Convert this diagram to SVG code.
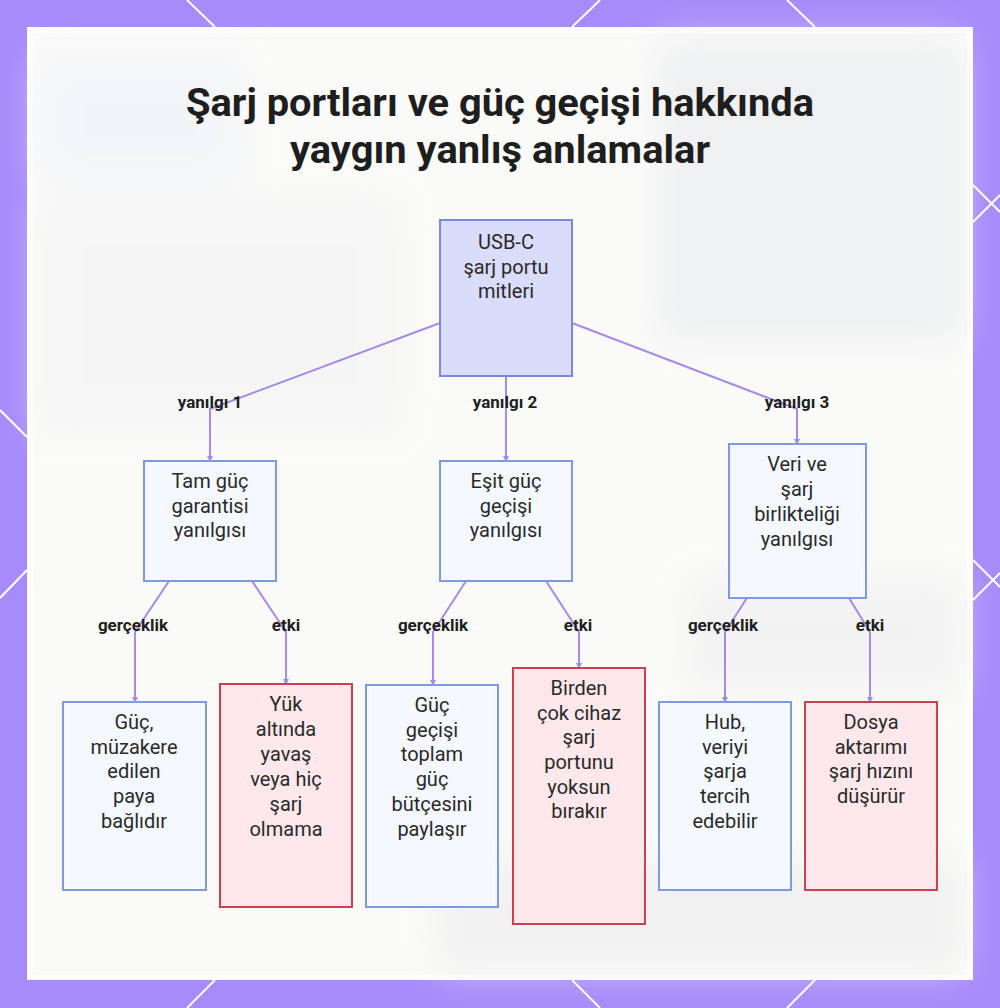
<svg xmlns="http://www.w3.org/2000/svg" width="1000" height="1008" viewBox="0 0 1000 1008">
  <defs>
    <filter id="blur" x="-20%" y="-20%" width="140%" height="140%"><feGaussianBlur stdDeviation="18"/></filter>
    <marker id="arr" viewBox="0 0 6 6" refX="5" refY="3" markerWidth="3" markerHeight="3" orient="auto">
      <path d="M0,0 L6,3 L0,6 z" fill="#a58be6"/>
    </marker>
    <style>
      .title{font-family:Roboto,"Liberation Sans",sans-serif;font-weight:700;font-size:38px;fill:#1e1e1e;text-anchor:middle}
      .nt{font-family:Roboto,"Liberation Sans",sans-serif;font-size:20px;fill:#2a2a2a;text-anchor:middle}
      .el{font-family:Roboto,"Liberation Sans",sans-serif;font-weight:700;font-size:17px;fill:#1e1e1e;text-anchor:middle}
      .root{fill:#dadcfc;stroke:#7b8ad8;stroke-width:2}
      .blue{fill:#f6f8ff;stroke:#7f9ae0;stroke-width:2}
      .red{fill:#ffe8ec;stroke:#c9424f;stroke-width:2}
      .edge{fill:none;stroke:#a58be6;stroke-width:2;marker-end:url(#arr)}
      .deco{stroke:#ffffff;stroke-width:2;fill:none}
    </style>
  </defs>
  <rect x="0" y="0" width="1000" height="1008" fill="#a78bfa"/>
  <g class="deco">
    <line x1="187" y1="0" x2="215" y2="27"/>
    <line x1="600" y1="0" x2="572" y2="27"/>
    <line x1="787" y1="0" x2="815" y2="27"/>
    <line x1="973" y1="185" x2="1000" y2="212"/>
    <line x1="973" y1="222" x2="1000" y2="195"/>
    <line x1="0" y1="410" x2="27" y2="437"/>
    <line x1="0" y1="598" x2="27" y2="570"/>
    <line x1="973" y1="560" x2="1000" y2="587"/>
    <line x1="973" y1="600" x2="1000" y2="573"/>
    <line x1="215" y1="980" x2="187" y2="1008"/>
    <line x1="572" y1="980" x2="600" y2="1008"/>
    <line x1="815" y1="980" x2="787" y2="1008"/>
  </g>
  <rect x="27" y="27" width="946" height="953" fill="#ffffff"/>
  <rect x="33" y="33" width="934" height="942" fill="#fafaf9"/>
  <g filter="url(#blur)" opacity="0.7">
    <rect x="660" y="40" width="300" height="300" fill="#eaecee"/>
    <rect x="40" y="60" width="200" height="120" fill="#f0f3f8"/>
    <rect x="40" y="200" width="360" height="230" fill="#f4f4f4"/>
    <rect x="440" y="860" width="520" height="110" fill="#eeeeee"/>
    <rect x="690" y="580" width="270" height="110" fill="#f0f0f0"/>
  </g>
  <g class="title">
    <text x="500" y="116" textLength="628" lengthAdjust="spacingAndGlyphs">Şarj portları ve güç geçişi hakkında</text>
    <text x="500" y="163" textLength="420" lengthAdjust="spacingAndGlyphs">yaygın yanlış anlamalar</text>
  </g>
  <g id="edges">
    <polyline class="edge" points="440,323 210,409 210,461"/>
    <polyline class="edge" points="506,376 506,461"/>
    <polyline class="edge" points="572,323 797,409 797,444"/>
    <polyline class="edge" points="169,581 135,632 135,702"/>
    <polyline class="edge" points="252,581 286,632 286,684"/>
    <polyline class="edge" points="466,581 433,632 433,685"/>
    <polyline class="edge" points="546,581 579,632 579,668"/>
    <polyline class="edge" points="747,598 725,632 725,702"/>
    <polyline class="edge" points="849,598 870,632 870,702"/>
  </g>
  <g id="edge-labels" class="el">
    <text x="210" y="408">yanılgı 1</text>
    <text x="505" y="408">yanılgı 2</text>
    <text x="797" y="408">yanılgı 3</text>
    <text x="133" y="631">gerçeklik</text>
    <text x="286" y="631">etki</text>
    <text x="433" y="631">gerçeklik</text>
    <text x="578" y="631">etki</text>
    <text x="723" y="631">gerçeklik</text>
    <text x="870" y="631">etki</text>
  </g>
  <g id="root">
    <rect class="root" x="440" y="220" width="132" height="156"/>
    <text class="nt" x="506" y="249">USB-C</text>
    <text class="nt" x="506" y="274">şarj portu</text>
    <text class="nt" x="506" y="298">mitleri</text>
  </g>
  <g id="m1">
    <rect class="blue" x="144" y="461" width="132" height="120"/>
    <text class="nt" x="210" y="488">Tam güç</text>
    <text class="nt" x="210" y="513">garantisi</text>
    <text class="nt" x="210" y="537">yanılgısı</text>
  </g>
  <g id="m2">
    <rect class="blue" x="440" y="461" width="132" height="120"/>
    <text class="nt" x="506" y="488">Eşit güç</text>
    <text class="nt" x="506" y="513">geçişi</text>
    <text class="nt" x="506" y="537">yanılgısı</text>
  </g>
  <g id="m3">
    <rect class="blue" x="729" y="444" width="137" height="154"/>
    <text class="nt" x="797" y="471">Veri ve</text>
    <text class="nt" x="797" y="496">şarj</text>
    <text class="nt" x="797" y="521">birlikteliği</text>
    <text class="nt" x="797" y="546">yanılgısı</text>
  </g>
  <g id="r1">
    <rect class="blue" x="63" y="702" width="143" height="188"/>
    <text class="nt" x="134" y="729">Güç,</text>
    <text class="nt" x="134" y="754">müzakere</text>
    <text class="nt" x="134" y="778">edilen</text>
    <text class="nt" x="134" y="803">paya</text>
    <text class="nt" x="134" y="828">bağlıdır</text>
  </g>
  <g id="i1">
    <rect class="red" x="220" y="684" width="132" height="223"/>
    <text class="nt" x="286" y="711">Yük</text>
    <text class="nt" x="286" y="736">altında</text>
    <text class="nt" x="286" y="761">yavaş</text>
    <text class="nt" x="286" y="786">veya hiç</text>
    <text class="nt" x="286" y="811">şarj</text>
    <text class="nt" x="286" y="836">olmama</text>
  </g>
  <g id="r2">
    <rect class="blue" x="366" y="685" width="132" height="222"/>
    <text class="nt" x="432" y="712">Güç</text>
    <text class="nt" x="432" y="737">geçişi</text>
    <text class="nt" x="432" y="761">toplam</text>
    <text class="nt" x="432" y="786">güç</text>
    <text class="nt" x="432" y="811">bütçesini</text>
    <text class="nt" x="432" y="836">paylaşır</text>
  </g>
  <g id="i2">
    <rect class="red" x="513" y="668" width="132" height="256"/>
    <text class="nt" x="579" y="695">Birden</text>
    <text class="nt" x="579" y="720">çok cihaz</text>
    <text class="nt" x="579" y="744">şarj</text>
    <text class="nt" x="579" y="769">portunu</text>
    <text class="nt" x="579" y="794">yoksun</text>
    <text class="nt" x="579" y="818">bırakır</text>
  </g>
  <g id="r3">
    <rect class="blue" x="659" y="702" width="132" height="188"/>
    <text class="nt" x="725" y="729">Hub,</text>
    <text class="nt" x="725" y="754">veriyi</text>
    <text class="nt" x="725" y="778">şarja</text>
    <text class="nt" x="725" y="803">tercih</text>
    <text class="nt" x="725" y="828">edebilir</text>
  </g>
  <g id="i3">
    <rect class="red" x="805" y="702" width="132" height="188"/>
    <text class="nt" x="871" y="729">Dosya</text>
    <text class="nt" x="871" y="754">aktarımı</text>
    <text class="nt" x="871" y="778">şarj hızını</text>
    <text class="nt" x="871" y="803">düşürür</text>
  </g>
</svg>
